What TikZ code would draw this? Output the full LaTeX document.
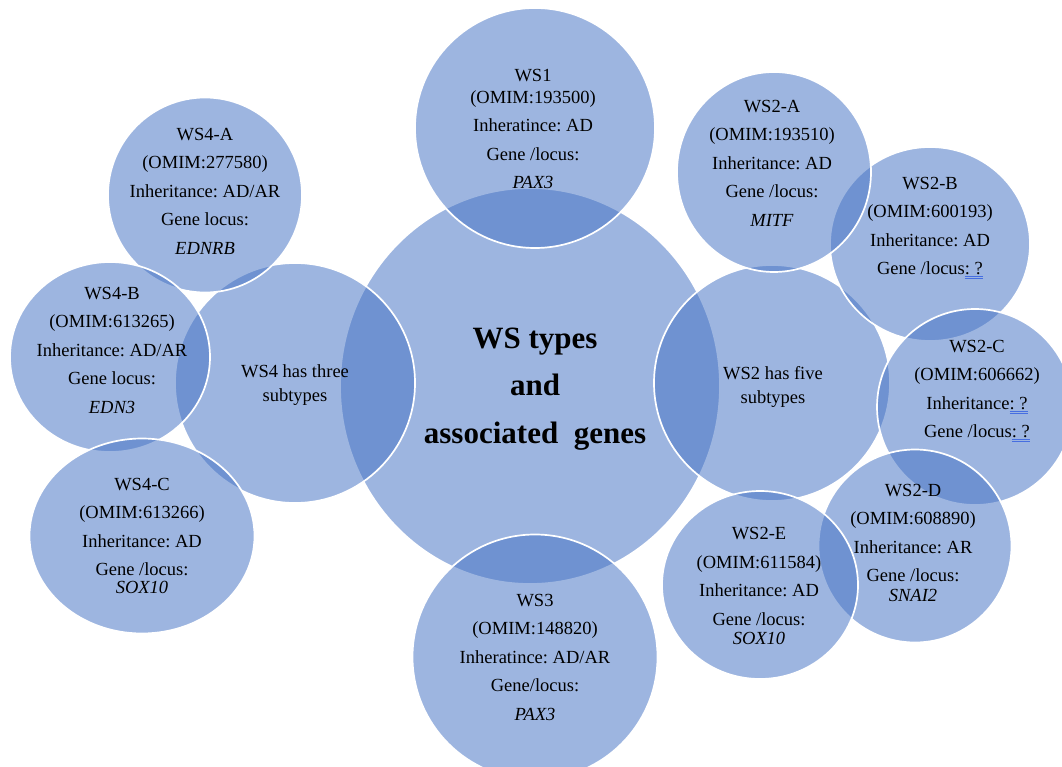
\documentclass[tikz,border=0pt]{standalone}
\usepackage{fontspec}
\setmainfont{Liberation Serif}
\usetikzlibrary{shapes.geometric}

\definecolor{wsblue}{RGB}{68,114,196}
\definecolor{flagblue}{RGB}{70,110,225}

% word-processor style double underline under a flagged bit of text
\newcommand{\flagged}[1]{%
  \setbox0=\hbox{#1}%
  \rlap{\textcolor{flagblue}{\rule[-2.4pt]{\wd0}{0.6pt}}}%
  \rlap{\textcolor{flagblue}{\rule[-4.4pt]{\wd0}{0.6pt}}}%
  \box0}
\newcommand{\gene}[1]{\textit{#1}}

\tikzset{
  bubble/.style={ellipse, fill=wsblue, fill opacity=0.52, draw=white,
    line width=1.7pt, inner sep=0pt},
  info/.style={align=center, inner sep=0pt,
    font=\fontsize{18.5}{28.5}\selectfont\frenchspacing},
  hub/.style={align=center, inner sep=0pt,
    font=\fontsize{31}{47.5}\selectfont\bfseries},
}

\begin{document}
\begin{tikzpicture}[x=1pt, y=-1pt]
    \useasboundingbox (0,0) rectangle (1062,767);
    \clip (0,0) rectangle (1062,767);

    % centre and the three levels round it
    \node[bubble, minimum width=380pt, minimum height=396pt] (WS) at (530,386) {};
    \node[bubble, minimum width=240pt, minimum height=240pt] (WS1) at (535,128) {};
    \node[bubble, minimum width=245pt, minimum height=245pt] (WS3) at (535,657) {};
    \node[bubble, minimum width=240pt, minimum height=240pt] (WS4) at (295,383) {};
    \node[bubble, minimum width=236pt, minimum height=236pt] (WS2) at (772,383) {};

    % WS4 subtypes
    \node[bubble, minimum width=194pt, minimum height=195pt] (WS4-A) at (205,195) {};
    \node[bubble, minimum width=200pt, minimum height=190pt] (WS4-B) at (110,357) {};
    \node[bubble, minimum width=225pt, minimum height=195pt] (WS4-C) at (142,536) {};

    % WS2 subtypes
    \node[bubble, minimum width=200pt, minimum height=194pt] (WS2-B) at (930,244) {};
    \node[bubble, minimum width=194pt, minimum height=200pt] (WS2-A) at (774,172) {};
    \node[bubble, minimum width=196pt, minimum height=196pt] (WS2-C) at (975,407) {};
    \node[bubble, minimum width=193pt, minimum height=193pt] (WS2-D) at (915,546) {};
    \node[bubble, minimum width=196pt, minimum height=188pt] (WS2-E) at (760,585) {};

    % texts
    \node[hub] (WS-text) at (535,389) {WS types\\and\\associated\ \ genes};
    \node[info] (WS1-text) at (533,129)
        {WS1\\[-6.5pt](OMIM:193500)\\Inheratince: AD\\Gene /locus:\\\gene{PAX3}};
    \node[info] (WS3-text) at (535,657)
        {WS3\\(OMIM:148820)\\Inheratince: AD/AR\\Gene/locus:\\\gene{PAX3}};
    \node[info] (WS4-text) at (295,385) {WS4 has three\\[-4.5pt]subtypes};
    \node[info] (WS2-text) at (773,387) {WS2 has five\\[-4.5pt]subtypes};

    \node[info] (WS4-A-text) at (205,191)
        {WS4-A\\(OMIM:277580)\\Inheritance: AD/AR\\Gene locus:\\\gene{EDNRB}};
    \node[info] (WS4-B-text) at (112,350)
        {WS4-B\\(OMIM:613265)\\Inheritance: AD/AR\\Gene locus:\\\gene{EDN3}};
    \node[info] (WS4-C-text) at (142,536)
        {WS4-C\\(OMIM:613266)\\Inheritance: AD\\Gene /locus:\\[-10.5pt]\gene{SOX10}};

    \node[info] (WS2-A-text) at (772,163)
        {WS2-A\\(OMIM:193510)\\Inheritance: AD\\Gene /locus:\\\gene{MITF}};
    \node[info] (WS2-B-text) at (930,228)
        {WS2-B\\(OMIM:600193)\\Inheritance: AD\\Gene /locus\flagged{: ?}};
    \node[info] (WS2-C-text) at (977,391)
        {WS2-C\\(OMIM:606662)\\Inheritance\flagged{: ?}\\Gene /locus\flagged{: ?}};
    \node[info] (WS2-D-text) at (913,543)
        {WS2-D\\(OMIM:608890)\\Inheritance: AR\\Gene /locus:\\[-8.5pt]\gene{SNAI2}};
    \node[info] (WS2-E-text) at (759,586)
        {WS2-E\\(OMIM:611584)\\Inheritance: AD\\Gene /locus:\\[-9.5pt]\gene{SOX10}};

\end{tikzpicture}
\end{document}
